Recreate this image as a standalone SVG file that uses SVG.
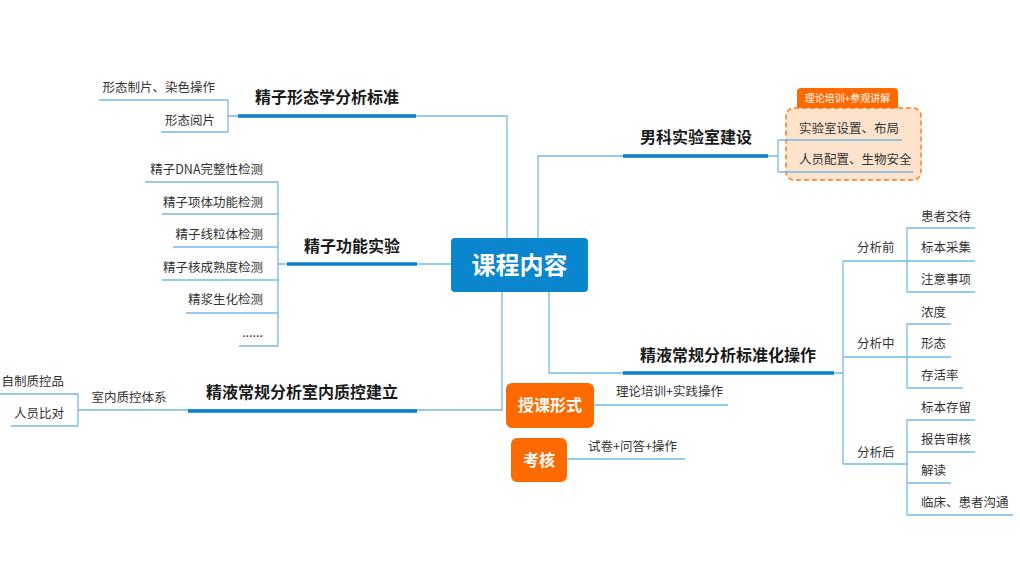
<svg xmlns="http://www.w3.org/2000/svg" width="1020" height="570" viewBox="0 0 1020 570">
<style>
text{font-family:"Noto Sans CJK SC","Liberation Sans",sans-serif;fill:#333}
.thin{fill:none;stroke:#72BBE8;stroke-width:1.3}
.thick{fill:none;stroke:#0A7FCC;stroke-width:3.5}
.t1{font-size:16px;font-weight:bold;fill:#1a1a1a;text-anchor:middle}
.it{font-size:12.5px}
.e{text-anchor:end}
.m{text-anchor:middle}
.wb{fill:#fff;font-weight:bold;text-anchor:middle}
.tab{fill:#fff;font-size:10px;text-anchor:middle}
</style>
<rect width="1020" height="570" fill="#fff"/>
<g id="connectors">
<path class="thin" d="M451,264H278M278,182V346M145,182H278M162,214H278M173,247H278M162,280H278M186,313H278M239,346H278"/>
<path class="thin" d="M507,238V116H228M228,100V132M99,100H228M161,132H228"/>
<path class="thin" d="M502,292V410H78M78,394V426M0,394H78M11,426H78"/>
<path class="thin" d="M538,238V156H778M778,140V172"/>
<path class="thin" d="M549,292V373H843M843,261V464M843,261H907M843,357H907M843,464H907"/>
<path class="thin" d="M907,228V292M907,228H975M907,261H975M907,292H975"/>
<path class="thin" d="M907,324V388M907,324H951M907,357H951M907,388H963"/>
<path class="thin" d="M907,420V515M907,420H975M907,452H975M907,483H951M907,515H1013"/>
<path class="thin" d="M594,405H728M567,459H685"/>
<path class="thick" d="M238,116H416M287,264H417M188,411H417M623,156H768M623,373H834"/>
</g>
<g id="center">
<rect x="451" y="238" width="137" height="54" rx="4" fill="#0A86CF"/>
<text x="519.5" y="274" class="wb" font-size="24">课程内容</text>
</g>
<g id="morph">
<text x="327" y="103" class="t1">精子形态学分析标准</text>
<text x="215" y="92" class="it e">形态制片、染色操作</text>
<text x="215" y="125" class="it e">形态阅片</text>
</g>
<g id="func">
<text x="352" y="252" class="t1">精子功能实验</text>
<text x="263" y="174" class="it e">精子DNA完整性检测</text>
<text x="263" y="207" class="it e">精子项体功能检测</text>
<text x="263" y="239" class="it e">精子线粒体检测</text>
<text x="263" y="272" class="it e">精子核成熟度检测</text>
<text x="263" y="304" class="it e">精浆生化检测</text>
<text x="263" y="337" class="it e">......</text>
</g>
<g id="qc">
<text x="302" y="398" class="t1">精液常规分析室内质控建立</text>
<text x="129" y="402" class="it m">室内质控体系</text>
<text x="64" y="386" class="it e">自制质控品</text>
<text x="64" y="418" class="it e">人员比对</text>
</g>
<g id="lab">
<text x="696" y="143" class="t1">男科实验室建设</text>
<rect x="786" y="108" width="135" height="72" rx="8" fill="#FEE3CC" stroke="#FF7A1A" stroke-width="1.5" stroke-dasharray="5,3"/>
<path class="thin" d="M778,140H902M778,172H913"/>
<path d="M797,108V92a4,4 0 0 1 4,-4H894a4,4 0 0 1 4,4V108Z" fill="#FF6A00"/>
<text x="847.5" y="102" class="tab">理论培训+参观讲解</text>
<text x="799" y="133" class="it">实验室设置、布局</text>
<text x="799" y="164" class="it">人员配置、生物安全</text>
</g>
<g id="std">
<text x="728" y="361" class="t1">精液常规分析标准化操作</text>
<text x="857" y="252" class="it">分析前</text>
<text x="857" y="348" class="it">分析中</text>
<text x="857" y="457" class="it">分析后</text>
<text x="921" y="221" class="it">患者交待</text>
<text x="921" y="252" class="it">标本采集</text>
<text x="921" y="284" class="it">注意事项</text>
<text x="921" y="317" class="it">浓度</text>
<text x="921" y="348" class="it">形态</text>
<text x="921" y="380" class="it">存活率</text>
<text x="921" y="412" class="it">标本存留</text>
<text x="921" y="444" class="it">报告审核</text>
<text x="921" y="475" class="it">解读</text>
<text x="921" y="507" class="it">临床、患者沟通</text>
</g>
<g id="teach">
<rect x="506" y="383" width="88" height="45" rx="6" fill="#FF6A00"/>
<text x="550" y="411" class="wb" font-size="16">授课形式</text>
<text x="616" y="396" class="it">理论培训+实践操作</text>
</g>
<g id="exam">
<rect x="511" y="438" width="56" height="44" rx="6" fill="#FF6A00"/>
<text x="539" y="466" class="wb" font-size="16">考核</text>
<text x="588" y="451" class="it">试卷+问答+操作</text>
</g>
</svg>
